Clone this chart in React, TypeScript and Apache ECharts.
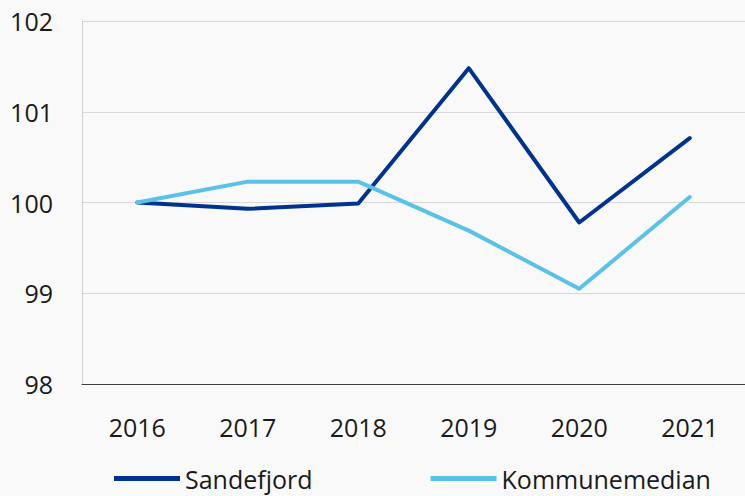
import React, { useEffect, useRef } from "react";
import * as echarts from "echarts";

const categories = ["2016", "2017", "2018", "2019", "2020", "2021"];
const sandefjord = [100, 99.93, 99.99, 101.48, 99.78, 100.71];
const kommunemedian = [100, 100.23, 100.23, 99.69, 99.05, 100.06];
const seriesNames = ["Sandefjord", "Kommunemedian"];

export default function App() {
  const ref = useRef<HTMLDivElement>(null);
  useEffect(() => {
    if (!ref.current) return;
    const chart = echarts.init(ref.current, null, { renderer: "svg" });
    const font = "'Open Sans', 'Noto Sans', sans-serif";
    chart.setOption({
      animation: false,
      backgroundColor: "#f9f9f9",
      textStyle: { fontFamily: font },
      grid: { left: 82, right: -3, top: 21, bottom: 112, containLabel: false },
      legend: {
        left: 114,
        top: 466,
        padding: 0,
        icon: "rect",
        itemWidth: 66,
        itemHeight: 5,
        itemGap: 118,
        textStyle: { fontSize: 25, color: "#1a1a1a", fontFamily: font },
        data: seriesNames,
      },
      xAxis: {
        type: "category",
        data: categories,
        boundaryGap: true,
        axisLine: { lineStyle: { color: "#404040", width: 1 } },
        axisTick: { inside: true, length: 7, lineStyle: { color: "#404040" } },
        axisLabel: { fontSize: 25, color: "#1a1a1a", margin: 30, fontFamily: font },
        splitLine: { show: false },
      },
      yAxis: {
        type: "value",
        min: 98,
        max: 102,
        interval: 1,
        axisLine: { show: true, lineStyle: { color: "#d0d0d0" } },
        axisTick: { show: false },
        axisLabel: { fontSize: 25, color: "#1a1a1a", margin: 29, fontFamily: font },
        splitLine: { lineStyle: { color: "#d9d9d9", width: 1 } },
      },
      series: [
        {
          name: seriesNames[0],
          type: "line",
          data: sandefjord,
          symbol: "none",
          color: "#00338d",
          lineStyle: { width: 4, color: "#00338d", cap: "round", join: "round" },
        },
        {
          name: seriesNames[1],
          type: "line",
          data: kommunemedian,
          symbol: "none",
          color: "#5bc2e7",
          lineStyle: { width: 4, color: "#5bc2e7", cap: "round", join: "round" },
        },
      ],
    });
    return () => chart.dispose();
  }, []);
  return (
    <div
      ref={ref}
      style={{ position: "fixed", left: 0, top: 0, width: 745, height: 496 }}
    />
  );
}
